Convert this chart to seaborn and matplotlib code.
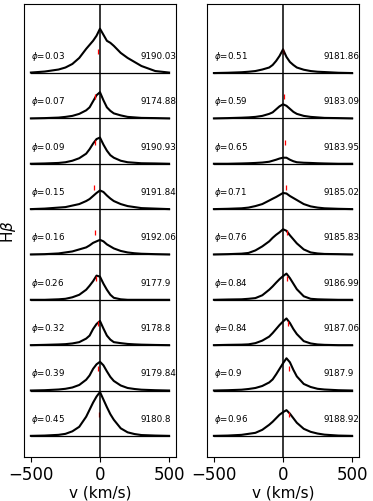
import numpy as np
import pandas as pd
import matplotlib
matplotlib.use("Agg")
import matplotlib.pyplot as plt
import seaborn as sns

# velocity grid (km/s) and H-beta excess flux (% of continuum)
velocity = [-500, -400, -300, -250, -200, -150, -100, -75, -50, -25, 0,
            25, 50, 75, 100, 150, 200, 250, 300, 400, 500]

left_phase = ["0.03", "0.07", "0.09", "0.15", "0.16", "0.26", "0.32", "0.39", "0.45"]
left_date = ["9190.03", "9174.88", "9190.93", "9191.84", "9192.06",
             "9177.9", "9178.8", "9179.84", "9180.8"]
left_rv = [-11, -35, -37, -40, -37, -30, -15, -11, -6]
left_flux = [
    [0.5, 1.5, 3.5, 5.5, 9, 15, 24, 28, 32, 37, 44, 38, 32, 30, 27, 20, 15, 11, 7, 2, 0.5],
    [0, 0.3, 0.8, 1.5, 2.5, 4.5, 8, 11, 17, 23, 26, 18, 11, 7.5, 5, 3, 1.5, 1, 0.5, 0.3, 0],
    [0, 0.3, 0.8, 1.5, 3, 5.5, 10, 14.5, 20, 24.5, 26, 19, 13, 8.5, 6, 3, 1.5, 1, 0.5, 0.3, 0],
    [0, 0.5, 1.5, 2, 3.5, 5, 8, 10, 13, 16, 18.5, 17, 13.5, 10.5, 8, 5, 3, 2, 1, 0.5, 0],
    [0, 0.3, 1, 2, 3, 5, 7, 9, 11.5, 13, 14.5, 13, 10, 8, 6, 3.5, 2, 1.2, 0.7, 0.3, 0],
    [0, 0, 0.5, 1, 2.5, 5, 10, 14, 18.5, 24, 23, 16, 10, 5, 2, 0.5, 0, 0, 0, 0, 0],
    [0, 0.3, 0.7, 1, 1.7, 3, 6.5, 9.5, 16, 21, 24, 16.5, 9.5, 5.5, 3, 2, 1.2, 0.8, 0.5, 0.2, 0],
    [0, 0.3, 1, 1.7, 3, 5.5, 10.7, 15, 21.5, 26, 28.5, 25, 19, 13.5, 9.5, 5, 2.5, 1.5, 0.8, 0.3, 0],
    [0, 0.3, 1, 2, 4.5, 9, 19, 26, 33, 39, 43.5, 36, 28.5, 21.5, 16, 7.5, 3.5, 1.8, 0.8, 0.3, 0],
]

right_phase = ["0.51", "0.59", "0.65", "0.71", "0.76", "0.84", "0.84", "0.9", "0.96"]
right_date = ["9181.86", "9183.09", "9183.95", "9185.02", "9185.83",
              "9186.99", "9187.06", "9187.9", "9188.92"]
right_rv = [-3, 7, 16, 19, 26, 29, 33, 40, 45]
right_flux = [
    [0, 0.3, 0.8, 1.3, 2, 3.5, 5.5, 8, 12, 17, 23.5, 16, 11, 8, 5.5, 3.3, 2, 1.3, 1, 0.3, 0],
    [0, 0.3, 0.7, 1, 1.5, 2.5, 4.5, 6, 9, 12, 14, 12.5, 9.5, 6.5, 4.5, 2.5, 1.5, 1, 0.5, 0.3, 0],
    [0, 0, 0.3, 0.5, 0.8, 1.2, 2, 3, 4, 5.2, 6, 6, 4, 2.5, 1.5, 1, 0.8, 0.5, 0.3, 0, 0],
    [0, 0.3, 0.8, 1.5, 3, 5, 8.5, 10.3, 12, 14, 16, 15.5, 13, 11, 9, 5, 2.7, 1.5, 0.8, 0.3, 0],
    [0, 0.3, 0.8, 1.5, 4, 8, 13, 16.5, 19.5, 22, 25, 23.5, 19, 15, 11, 5, 2, 1, 0.5, 0.3, 0],
    [0, 0.3, 0.5, 1, 1.7, 4.5, 10, 13.3, 17, 20.5, 23.5, 26, 21.5, 16, 10.5, 3.5, 1, 0.5, 0.3, 0, 0],
    [0, 0.3, 0.5, 0.8, 2, 4.5, 8.5, 12, 16, 20, 23.5, 26.5, 22, 16, 11, 4, 1.7, 0.7, 0.3, 0, 0],
    [0, 0.3, 0.8, 1.5, 2.5, 4.5, 8, 11, 16, 21.5, 27, 32, 28, 20.5, 14, 6.5, 3.5, 1.7, 1, 0.3, 0],
    [0, 0.3, 1, 2, 3, 6, 11, 14, 17.5, 21, 23.5, 25.5, 22, 17.5, 13, 7, 4, 2.3, 1.2, 0.3, 0],
]

step = 45  # vertical offset between spectra

fig = plt.figure(figsize=(3.73, 5.02), dpi=100)
ax1 = fig.add_axes([0.0643, 0.0876, 0.4075, 0.9024])
ax2 = fig.add_axes([0.555, 0.0876, 0.4075, 0.9024])

for ax, phases, dates, rvs, fluxes in [(ax1, left_phase, left_date, left_rv, left_flux),
                                       (ax2, right_phase, right_date, right_rv, right_flux)]:
    n = len(fluxes)
    for i, f in enumerate(fluxes):
        off = (n - 1 - i) * step
        df = pd.DataFrame({"v": velocity, "flux": np.array(f) + off})
        sns.lineplot(data=df, x="v", y="flux", ax=ax, color="black", lw=1.5)
        ax.plot([velocity[0], velocity[-1]], [off, off], color="black", lw=0.9)
        ax.vlines(rvs[i], off + 19, off + 24, color="red", lw=0.9)
        ax.text(-500, off + 15, r"$\phi$=" + phases[i], fontsize=6.3)
        ax.text(290, off + 15, dates[i], fontsize=6.3)
    ax.axvline(0, color="black", lw=1.1)
    ax.set_xlim(-550, 550)
    ax.set_ylim(-21, 428.5)
    ax.set_xticks([-500, 0, 500])
    ax.tick_params(axis="x", labelsize=12, pad=2)
    ax.set_yticks([])
    ax.set_xlabel("v (km/s)", fontsize=11, labelpad=1)
    ax.set_ylabel("")

ax1.set_ylabel(r"H$\beta$", fontsize=11)

fig.savefig("out.png", dpi=100)
